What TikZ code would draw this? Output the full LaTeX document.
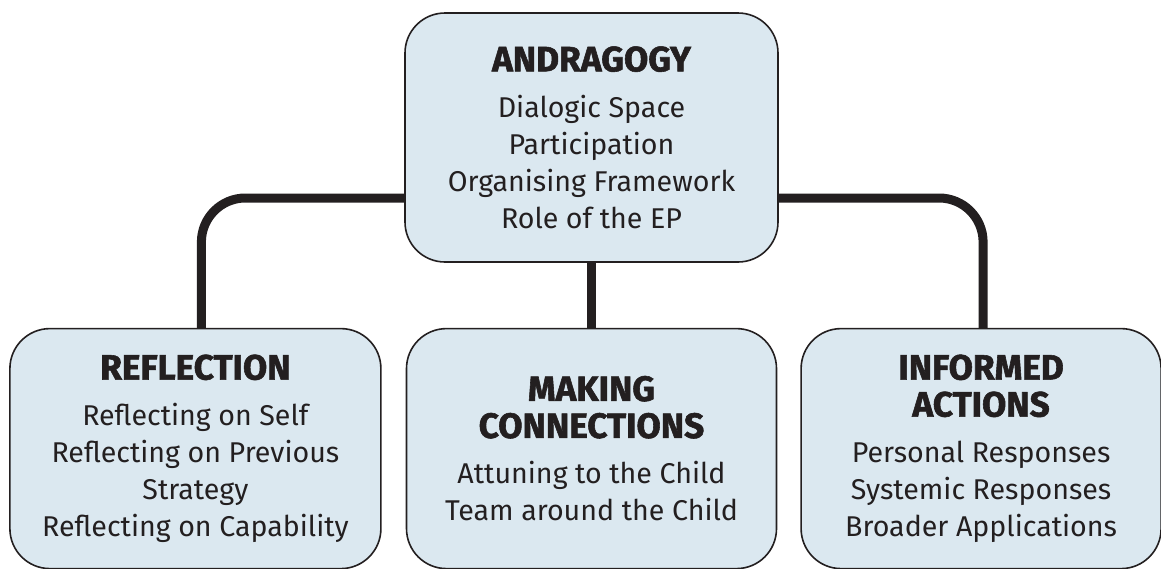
\documentclass[tikz,border=0pt]{standalone}
\usepackage{fontspec}
\setmainfont{Fira Sans}
\newfontfamily\headfont{Fira Sans}[BoldFeatures={FakeBold=1.6}]
\usepackage{tikz}
\usetikzlibrary{positioning}
\definecolor{boxblue}{HTML}{DBE8F0}
\definecolor{inkblack}{HTML}{231F20}
\newcommand{\bodyfont}{\fontsize{14.3}{18.5}\selectfont}
\newcommand{\headline}[1]{{\headfont\fontsize{17.6}{18.5}\selectfont\bfseries #1}}
\tikzstyle{topic} = [rectangle, rounded corners=20pt, draw=inkblack, line width=0.8pt, fill=boxblue, text=inkblack, align=center, inner sep=0pt, font=\bodyfont]
\tikzstyle{link} = [line width=4.5pt, draw=inkblack, rounded corners=22pt]

\begin{document}
\begin{tikzpicture}[x=0.5pt, y=-0.5pt]
\useasboundingbox (0,0) rectangle (1161,568);

\node (andra) [topic, minimum width=186.5pt, minimum height=124.5pt] at (591.5,137.5)
  {\headline{ANDRAGOGY}\\[4.5pt] Dialogic Space\\ Participation\\ Organising Framework\\ Role of the EP};
\node (mconn) [topic, minimum width=185pt, minimum height=120pt, below=32.5pt of andra]
  {\headline{MAKING}\\ \headline{CONNECTIONS}\\[4.5pt] Attuning to the Child\\ Team around the Child};
\node (refl) [topic, minimum width=185.5pt, minimum height=120pt, left=12pt of mconn]
  {\headline{REFLECTION}\\[4.5pt] Reflecting on Self\\ Reflecting on Previous\\ Strategy\\ Reflecting on Capability};
\node (inform) [topic, minimum width=180pt, minimum height=120pt, right=11.5pt of mconn]
  {\headline{INFORMED}\\ \headline{ACTIONS}\\[4.5pt] Personal Responses\\ Systemic Responses\\ Broader Applications};

\draw [link] ([yshift=-30.25pt]andra.west) -| ([xshift=3pt]refl.north);
\draw [link] ([yshift=-30.25pt]andra.east) -| ([xshift=1pt]inform.north);
\draw [link] (andra) -- (mconn);
\end{tikzpicture}
\end{document}
